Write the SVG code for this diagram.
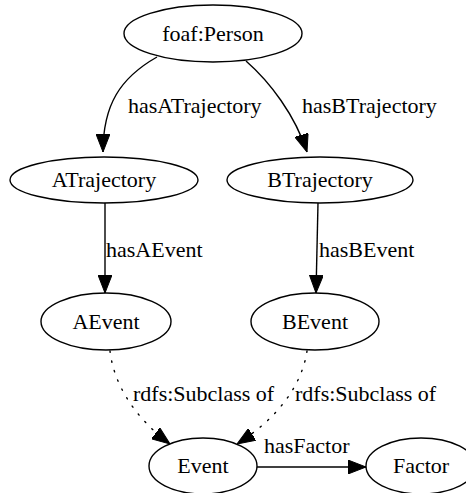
<svg xmlns="http://www.w3.org/2000/svg" width="466" height="493" viewBox="0 0 466 493">
<style>
  .node ellipse { fill: #ffffff; stroke: #000000; stroke-width: 1.4; }
  .node text { fill: #000000; text-anchor: middle; }
  .edge path { fill: none; stroke: #000000; stroke-width: 1.4; }
  .edge path.dotted { stroke-dasharray: 1.4 8.6; stroke-linecap: round; }
  .edge text { fill: #000000; }
</style>
<defs>
  <marker id="arrow" markerUnits="userSpaceOnUse" markerWidth="18" markerHeight="14" viewBox="0 0 18 14" refX="18" refY="7" orient="auto">
    <path d="M0,0 L18,7 L0,14 z" fill="#000000" stroke="#000000" stroke-width="1"/>
  </marker>
</defs>
<rect width="466" height="493" fill="#ffffff"/>
<g id="edges" class="edge" font-family="Liberation Serif, Times New Roman, serif" font-size="22">
  <path d="M157,57 C120,78 103,105 103,152" marker-end="url(#arrow)"/>
  <text x="128" y="113">hasATrajectory</text>
  <path d="M246,61 C270,82 295,115 307,152" marker-end="url(#arrow)"/>
  <text x="302" y="113">hasBTrajectory</text>
  <path d="M105,203 L105,293" marker-end="url(#arrow)"/>
  <text x="106" y="257">hasAEvent</text>
  <path d="M318,203 L316,293" marker-end="url(#arrow)"/>
  <text x="319" y="257">hasBEvent</text>
  <path class="dotted" d="M110,351 C114,385 135,418 170,444" marker-end="url(#arrow)"/>
  <text x="133" y="401">rdfs:Subclass of</text>
  <path class="dotted" d="M307,351 C302,385 278,418 237,444" marker-end="url(#arrow)"/>
  <text x="295" y="401">rdfs:Subclass of</text>
  <path d="M257,467 L366,467" marker-end="url(#arrow)"/>
  <text x="264" y="453">hasFactor</text>
</g>
<g id="nodes" font-family="Liberation Serif, Times New Roman, serif" font-size="22">
<g id="node-person" class="node">
  <ellipse cx="213" cy="33.5" rx="89" ry="28.5"/>
  <text x="213" y="41">foaf:Person</text>
</g>
<g id="node-atrajectory" class="node">
  <ellipse cx="104" cy="180" rx="94" ry="23"/>
  <text x="104" y="186.5">ATrajectory</text>
</g>
<g id="node-btrajectory" class="node">
  <ellipse cx="320" cy="180" rx="93" ry="23"/>
  <text x="320" y="186.5">BTrajectory</text>
</g>
<g id="node-aevent" class="node">
  <ellipse cx="106" cy="321.5" rx="65" ry="28.5"/>
  <text x="106" y="329">AEvent</text>
</g>
<g id="node-bevent" class="node">
  <ellipse cx="315" cy="321.5" rx="64" ry="28.5"/>
  <text x="315" y="329">BEvent</text>
</g>
<g id="node-event" class="node">
  <ellipse cx="203" cy="466" rx="54" ry="28"/>
  <text x="203" y="473">Event</text>
</g>
<g id="node-factor" class="node">
  <ellipse cx="421" cy="466" rx="55" ry="28"/>
  <text x="421" y="473">Factor</text>
</g>
</g>
</svg>
